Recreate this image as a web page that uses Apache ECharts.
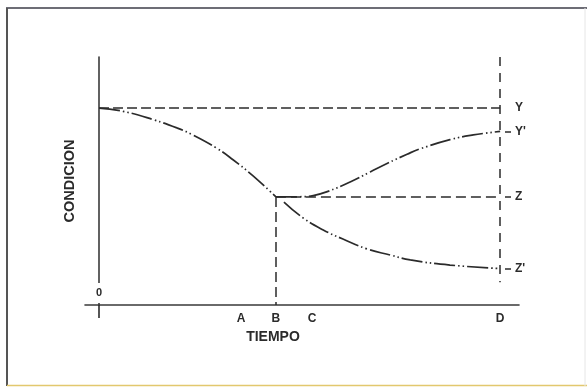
<!DOCTYPE html>
<html>
<head>
<meta charset="utf-8">
<script src="https://cdn.jsdelivr.net/npm/echarts@6/dist/echarts.min.js"></script>
<style>
  html, body { margin: 0; padding: 0; background: #ffffff; }
  #chart { width: 587px; height: 387px; }
</style>
</head>
<body>
<div id="chart"></div>
<script>
// Time marks along the horizontal axis
const timeLabels = ['A', 'B', 'C', 'D'];
const timeValues = [3.54, 4.41, 5.31, 10];

// Condition levels named on the right
const levelLabels = ['Y', "Y'", 'Z', "Z'"];
const levelValues = [100, 88.2, 54.9, 18.5];

// Deterioration from the initial condition Y down to Z at time B
const declineTime = [0, 0.60, 1.35, 1.95, 2.34, 2.94, 3.34, 3.84, 4.41];
const declineCond = [100, 98.4, 94.2, 89.9, 86.4, 79.6, 73.8, 65.6, 54.9];

// Recovery branch after B, rising towards Y'
const recoveryTime = [4.41, 5.00, 5.34, 5.69, 6.26, 6.76, 7.18, 7.68, 8.00, 8.75, 9.33, 10];
const recoveryCond = [54.9, 55.0, 55.6, 57.6, 62.5, 67.6, 71.9, 76.6, 79.3, 84.0, 86.4, 88.2];

// Continued deterioration branch after B, falling towards Z'
const fallTime = [4.61, 5.09, 5.59, 6.08, 6.68, 7.26, 7.76, 8.75, 10];
const fallCond = [52.3, 44.2, 38.1, 33.5, 28.5, 25.4, 22.9, 20.3, 18.5];

const ORIGIN_LABEL = '0';

const ink = '#2b2b2b';
const font = "'Liberation Sans', Arial, sans-serif";
const curveDash = [21, 3, 1.5, 3, 1.5, 3];

const pairs = (xs, ys) => xs.map((x, i) => [x, ys[i]]);
const timeOf = (name) => timeValues[timeLabels.indexOf(name)];
const levelOf = (name) => levelValues[levelLabels.indexOf(name)];

const X_MIN = -0.35, X_MAX = 10.47, Y_MAX = 126;
const D_GUIDE_LOW = 11.6;

const chart = echarts.init(document.getElementById('chart'), null, { renderer: 'canvas' });

const curveLine = { color: ink, width: 1.7, type: curveDash, cap: 'butt' };
const curveSeries = (name, xs, ys) => ({
  name,
  type: 'line',
  data: pairs(xs, ys),
  smooth: 0.45,
  symbol: 'none',
  lineStyle: curveLine,
  z: 3
});

const option = {
  backgroundColor: '#ffffff',
  animation: false,
  grid: { left: 85, right: 68, top: 57, bottom: 82 },
  xAxis: {
    type: 'value',
    min: X_MIN,
    max: X_MAX,
    name: 'TIEMPO',
    nameLocation: 'middle',
    nameGap: 22,
    nameTextStyle: {
      color: ink, fontFamily: font, fontSize: 14, fontWeight: 'bold',
      padding: [0, 58, 0, 0]
    },
    axisLine: { show: true, onZero: false, lineStyle: { color: '#3a3a3a', width: 1.6 } },
    axisTick: {
      show: true, length: 13, customValues: [0],
      lineStyle: { color: ink, width: 1.6 }
    },
    axisLabel: {
      show: true, margin: 8, customValues: timeValues,
      color: ink, fontFamily: font, fontSize: 12, fontWeight: 'bold',
      formatter: (v) => {
        const i = timeValues.indexOf(v);
        return i >= 0 ? timeLabels[i] : '';
      }
    },
    splitLine: { show: false }
  },
  yAxis: [
    {
      type: 'value',
      min: 0,
      max: Y_MAX,
      name: 'CONDICION',
      nameLocation: 'middle',
      nameRotate: 90,
      nameGap: 8,
      nameTextStyle: { color: ink, fontFamily: font, fontSize: 14.5, fontWeight: 'bold' },
      axisLine: { show: true, onZero: true, lineStyle: { color: '#3a3a3a', width: 1.6 } },
      axisTick: { show: false },
      axisLabel: { show: false },
      splitLine: { show: false }
    },
    {
      type: 'value',
      min: 0,
      max: Y_MAX,
      position: 'right',
      offset: -14,
      axisLine: { show: false, onZero: false },
      axisTick: {
        show: true, inside: false, length: 6,
        customValues: levelValues.slice(1),
        lineStyle: { color: ink, width: 1.5 }
      },
      axisLabel: {
        show: true, margin: 10, customValues: levelValues,
        color: ink, fontFamily: font, fontSize: 12, fontWeight: 'bold',
        formatter: (v) => {
          const i = levelValues.indexOf(v);
          return i >= 0 ? levelLabels[i] : '';
        }
      },
      splitLine: { show: false }
    }
  ],
  series: [
    Object.assign(curveSeries('deterioro', declineTime, declineCond), {
      markLine: {
        silent: true,
        symbol: ['none', 'none'],
        label: { show: false },
        animation: false,
        data: [
          // initial condition level Y, from the origin to D
          [
            { coord: [0, levelOf('Y')], lineStyle: { color: ink, width: 1.5, type: [10, 4] } },
            { coord: [timeOf('D'), levelOf('Y')] }
          ],
          // level Z reached at B, carried to D
          [
            { coord: [timeOf('B'), levelOf('Z')], lineStyle: { color: ink, width: 1.5, type: [10, 5] } },
            { coord: [timeOf('D'), levelOf('Z')] }
          ],
          // drop from the B corner to the time axis
          [
            { coord: [timeOf('B'), levelOf('Z')], lineStyle: { color: ink, width: 1.5, type: [10, 5] } },
            { coord: [timeOf('B'), 0] }
          ],
          // vertical guide at D
          [
            { coord: [timeOf('D'), Y_MAX], lineStyle: { color: ink, width: 1.5, type: [9, 7] } },
            { coord: [timeOf('D'), D_GUIDE_LOW] }
          ]
        ]
      }
    }),
    curveSeries('recuperacion', recoveryTime, recoveryCond),
    curveSeries('deterioro continuo', fallTime, fallCond)
  ]
};

chart.setOption(option);

// Origin label sits on the vertical axis just above the time axis
const origin = chart.convertToPixel({ xAxisIndex: 0, yAxisIndex: 0 }, [0, 0]);

chart.setOption({
  graphic: [
    // page frame
    { type: 'line', shape: { x1: 6, y1: 8, x2: 587, y2: 8 }, style: { stroke: '#3d3d48', lineWidth: 1.6 }, z: 50 },
    { type: 'line', shape: { x1: 7, y1: 8, x2: 7, y2: 386 }, style: { stroke: '#555555', lineWidth: 2 }, z: 50 },
    { type: 'line', shape: { x1: 7, y1: 385.5, x2: 587, y2: 385.5 }, style: { stroke: '#e2c86e', lineWidth: 1.5 }, z: 50 },
    { type: 'line', shape: { x1: 585, y1: 8, x2: 585, y2: 386 }, style: { stroke: '#e6e6e6', lineWidth: 1 }, z: 50 },
    {
      type: 'text',
      x: origin[0],
      y: origin[1] - 12,
      z: 60,
      style: {
        text: ORIGIN_LABEL,
        fill: ink,
        font: 'bold 11px ' + font,
        align: 'center',
        verticalAlign: 'middle',
        backgroundColor: '#ffffff',
        padding: [5, 3, 4, 3]
      }
    }
  ]
});
</script>
</body>
</html>
